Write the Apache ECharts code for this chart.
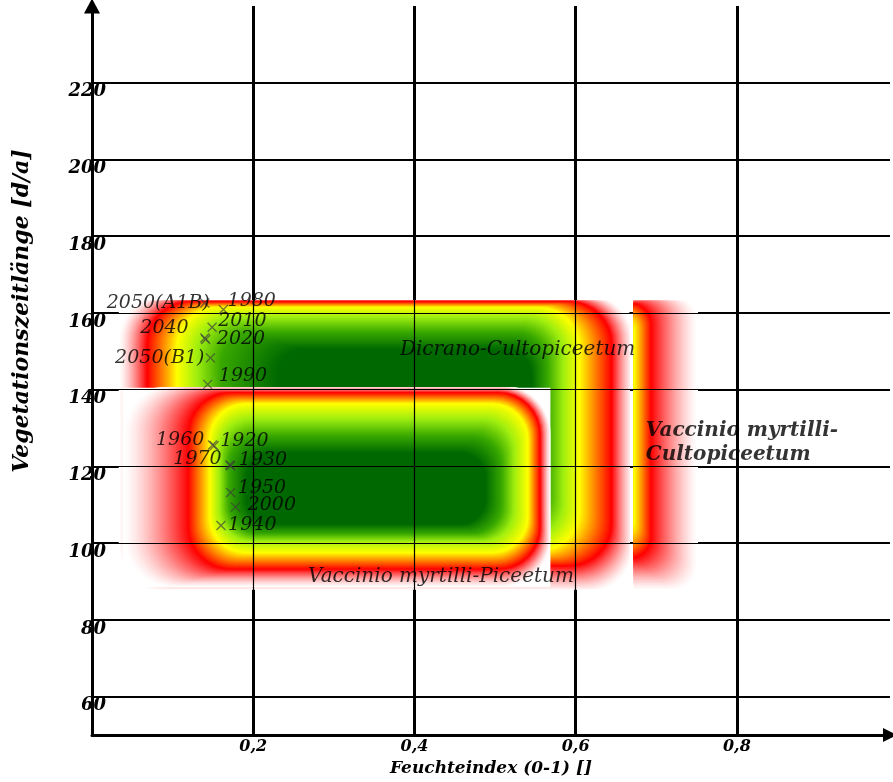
<!DOCTYPE html>
<html>
<head>
<meta charset="utf-8">
<script src="https://cdn.jsdelivr.net/npm/echarts/dist/echarts.min.js"></script>
<style>
html,body{margin:0;padding:0;background:#fff;}
#chart{width:893px;height:782px;}
</style>
</head>
<body>
<div id="chart"></div>
<script>
// ---------- data ----------
const xTicks = [0.2, 0.4, 0.6, 0.8];
const yTicks = [60, 80, 100, 120, 140, 160, 180, 200, 220];

// zones, drawn in this order (last on top); rectangles are [xMin, xMax, yMin, yMax]
const zoneNames  = ['Dicrano-Cultopiceetum', 'Vaccinio myrtilli-\nCultopiceetum', 'Vaccinio myrtilli-Piceetum'];
const zoneBox    = [[0.033, 0.667, 88.0, 163.2], [0.672, 0.752, 88.0, 163.2], [0.038, 0.569, 88.5, 140.6]];
const zoneOuter  = [[0.033, 0.672, 87.0, 164.8], [0.550, 0.752, 87.5, 164.6], [0.038, 0.569, 88.5, 141.2]];
const zoneRed    = [[0.068, 0.645, 94.0, 163.0], [0.560, 0.694, 96.0, 162.6], [0.119, 0.556, 93.2, 139.3]];
const zoneYellow = [[0.105, 0.605, 98.0, 161.5], [0.570, 0.673, 101.0, 160.0], [0.146, 0.541, 97.5, 136.4]];
const zoneLight  = [[0.130, 0.585, 101.0, 159.0], [0.580, 0.655, 104.0, 157.0], [0.158, 0.524, 100.5, 132.5]];
const zoneGreen  = [[0.160, 0.565, 105.0, 155.0], [0.590, 0.640, 108.0, 153.0], [0.170, 0.508, 102.5, 128.0]];
const zoneCore   = [[0.230, 0.545, 112.0, 150.5], [0.600, 0.625, 112.0, 150.0], [0.192, 0.488, 105.0, 123.5]];
const zoneLabelX = [0.382, 0.687, 0.268];
const zoneLabelY = [150.4, 126.2, 91.2];

// observed / projected years
const years   = ['1920', '1960', '1930', '1970', '1940', '1950', '2000', '1980', '1990', '2010', '2020', '2040', '2050(A1B)', '2050(B1)'];
const yearX   = [0.1515, 0.1495, 0.172, 0.171, 0.160, 0.172, 0.178, 0.163, 0.1435, 0.149, 0.141, 0.140, 0.140, 0.147];
const yearY   = [125.4, 125.6, 120.2, 120.4, 104.6, 113.2, 109.4, 160.9, 141.4, 156.3, 153.1, 153.5, 162.6, 148.3];

// ---------- layout / style ----------
const labelPlace = {
  '1920': ['right', 1, -5], '1960': ['left', 3, -5],
  '1930': ['right', 3, -6], '1970': ['left', 3, -6],
  '1940': ['right', 2, -1], '1950': ['right', 2, -5], '2000': ['right', 7, -2],
  '1980': ['right', -1, -8], '1990': ['right', 6, -8], '2010': ['right', 1, -6],
  '2020': ['right', 6, 0], '2040': ['left', 11, -10], '2050(A1B)': ['left', -10, 0], '2050(B1)': ['left', 1, 0]
};
const RAMP = [[255,255,255],[255,0,0],[255,255,0],[160,238,16],[56,168,0],[0,104,0]];
const STEPS = 40;
const SERIF = '"DejaVu Serif", "Liberation Serif", serif';

function mix(a, b, t) {
  return 'rgb(' + a.map((v, k) => Math.round(v + (b[k] - v) * t)).join(',') + ')';
}

function renderZone(params, api) {
  const i = params.dataIndex;
  const toPx = r => {
    const p0 = api.coord([r[0], r[3]]);
    const p1 = api.coord([r[1], r[2]]);
    return [p0[0], p0[1], p1[0], p1[1]];
  };
  const levels = [zoneOuter[i], zoneRed[i], zoneYellow[i], zoneLight[i], zoneGreen[i], zoneCore[i]].map(toPx);
  const box = toPx(zoneBox[i]);
  const core = levels[5];
  const rCore = Math.min(26, (core[2] - core[0]) / 2, (core[3] - core[1]) / 2);
  const children = [{
    type: 'rect',
    shape: { x: box[0], y: box[1], width: box[2] - box[0], height: box[3] - box[1] },
    style: { fill: '#fff' }
  }];
  const addRect = (r, fill) => {
    const w = r[2] - r[0], h = r[3] - r[1];
    const inset = Math.max(0, Math.min(core[0] - r[0], r[2] - core[2], core[1] - r[1], r[3] - core[3]));
    const rad = Math.min(rCore + inset * 0.35, w / 2, h / 2);
    children.push({ type: 'rect', shape: { x: r[0], y: r[1], width: w, height: h, r: rad }, style: { fill: fill } });
  };
  for (let seg = 0; seg < 5; seg++) {
    const a = levels[seg], b = levels[seg + 1];
    for (let s = 0; s < STEPS; s++) {
      const t = s / STEPS;
      const r = a.map((v, k) => v + (b[k] - v) * t);
      const ct = seg === 0 ? Math.pow(t, 1.4) : t;
      addRect(r, mix(RAMP[seg], RAMP[seg + 1], ct));
    }
  }
  addRect(core, mix(RAMP[5], RAMP[5], 0));
  return {
    type: 'group',
    clipPath: { type: 'rect', shape: { x: box[0], y: box[1], width: box[2] - box[0], height: box[3] - box[1] } },
    children: children
  };
}

function gridLines(xw, yw) {
  return [].concat(
    xTicks.map(v => ({ xAxis: v, lineStyle: { width: xw } })),
    yTicks.map(v => ({ yAxis: v, lineStyle: { width: yw } }))
  );
}

const option = {
  backgroundColor: '#fff',
  animation: false,
  grid: { left: 92, right: 3, top: 6, bottom: 44 },
  xAxis: {
    type: 'value', min: 0, max: 0.99, interval: 0.2,
    splitLine: { show: false },
    axisTick: { show: false },
    axisLine: { lineStyle: { color: '#000', width: 3 }, symbol: ['none', 'triangle'], symbolSize: [14, 14] },
    axisLabel: {
      margin: 4, color: '#000', fontFamily: SERIF, fontWeight: 'bold', fontStyle: 'italic', fontSize: 16,
      formatter: v => xTicks.some(t => Math.abs(t - v) < 1e-9) ? String(v).replace('.', ',') : ''
    },
    name: 'Feuchteindex (0-1) []', nameLocation: 'middle', nameGap: 20,
    nameTextStyle: { color: '#000', fontFamily: SERIF, fontWeight: 'bold', fontStyle: 'italic', fontSize: 17 }
  },
  yAxis: {
    type: 'value', min: 50, max: 240, interval: 10,
    splitLine: { show: false },
    axisTick: { show: false },
    axisLine: { lineStyle: { color: '#000', width: 3 }, symbol: ['none', 'triangle'], symbolSize: [16, 15] },
    axisLabel: {
      margin: -14, color: '#000', fontFamily: SERIF, fontWeight: 'bold', fontStyle: 'italic', fontSize: 18,
      verticalAlign: 'top',
      formatter: v => yTicks.includes(v) ? String(v) : ''
    }
  },
  graphic: [{
    type: 'text', x: 22, y: 311, rotation: Math.PI / 2,
    style: {
      text: 'Vegetationszeitlänge [d/a]', fill: '#000', font: 'italic bold 22px ' + SERIF,
      textAlign: 'center', textVerticalAlign: 'middle'
    }
  }],
  series: [
    {
      type: 'scatter', data: [], silent: true,
      markLine: { z: 1, silent: true, symbol: ['none', 'none'], label: { show: false }, lineStyle: { color: '#000', type: 'solid' }, data: gridLines(3, 2) }
    },
    {
      type: 'custom', z: 2, silent: true, renderItem: renderZone,
      data: zoneNames.map((n, i) => [zoneBox[i][0], zoneBox[i][2]])
    },
    {
      type: 'scatter', data: [], silent: true,
      markLine: { z: 4, silent: true, symbol: ['none', 'none'], label: { show: false }, lineStyle: { color: '#000', type: 'solid' }, data: gridLines(1.2, 1.2) }
    },
    {
      type: 'scatter', z: 6, silent: true,
      symbol: 'path://M0,0L10,10M10,0L0,10', symbolSize: 9,
      itemStyle: { color: 'rgba(0,0,0,0)', borderColor: 'rgba(60,60,60,0.85)', borderWidth: 1.3 },
      data: years.map((y, i) => {
        const p = labelPlace[y];
        return {
          value: [yearX[i], yearY[i]],
          label: {
            show: true, formatter: y, position: p[0], distance: p[1], offset: [0, p[2]],
            color: '#000', fontFamily: SERIF, fontStyle: 'italic', fontSize: 19
          }
        };
      })
    },
    {
      type: 'scatter', z: 7, silent: true, symbolSize: 0,
      data: zoneNames.map((n, i) => ({
        value: [zoneLabelX[i], zoneLabelY[i]],
        label: {
          show: true, formatter: n, position: 'right', distance: 0, align: 'left',
          color: '#000', fontFamily: SERIF, fontStyle: 'italic', fontSize: 20, lineHeight: 24,
          fontWeight: i === 1 ? 'bold' : 'normal'
        }
      }))
    }
  ]
};

const chart = echarts.init(document.getElementById('chart'), null, { renderer: 'canvas' });
chart.setOption(option);
</script>
</body>
</html>
